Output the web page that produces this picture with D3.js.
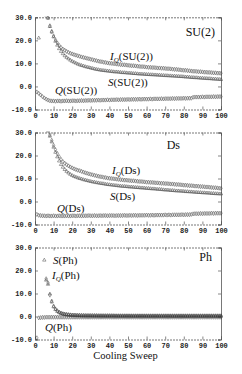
<!DOCTYPE html>
<html><head><meta charset="utf-8">
<script src="https://cdn.jsdelivr.net/npm/d3@7"></script>
<style>html,body{margin:0;padding:0;background:#fff;} svg{display:block;}</style>
</head><body>
<svg id="c" width="242" height="374"></svg>
<script>
// ---------- data ----------
const sweeps = d3.range(1, 101);            // cooling sweep 1..100
const xTicks = [0,10,20,30,40,50,60,70,80,90,100];
const yTicks = [-10,0,10,20,30];
const panelNames = ["SU(2)", "Ds", "Ph"];
const xTitle = "Cooling Sweep";

const su2_IQ = [null,null,35.0,34.0,33.0,31.5,29.9,26.3,23.9,21.9,
20.2,18.9,17.8,16.9,16.2,15.7,15.2,14.8,14.4,14.1,
13.8,13.6,13.3,13.1,12.8,12.6,12.4,12.2,12.0,11.8,
11.6,11.4,11.2,11.0,10.8,10.7,10.5,10.4,10.2,10.1,
10.0,9.9,9.8,9.7,9.6,9.5,9.4,9.4,9.3,9.2,
9.1,9.0,9.0,8.9,8.8,8.7,8.6,8.6,8.5,8.4,
8.3,8.3,8.2,8.2,8.1,8.0,8.0,7.9,7.9,7.8,
7.7,7.7,7.6,7.5,7.4,7.4,7.3,7.2,7.1,7.0,
7.0,6.9,6.8,6.7,6.6,6.6,6.5,6.4,6.4,6.3,
6.2,6.2,6.1,6.1,6.0,5.9,5.9,5.8,5.8,5.7];
const su2_S = [null,21.0,34.0,33.0,32.0,31.0,29.6,26.0,23.6,21.5,
19.6,17.9,16.4,15.2,14.2,13.3,12.6,12.0,11.4,10.9,
10.5,10.1,9.7,9.4,9.1,8.9,8.6,8.4,8.2,8.0,
7.8,7.6,7.4,7.3,7.1,7.0,6.9,6.8,6.7,6.6,
6.5,6.4,6.3,6.3,6.2,6.1,6.0,6.0,5.9,5.8,
5.8,5.7,5.6,5.6,5.5,5.4,5.4,5.3,5.3,5.2,
5.2,5.1,5.1,5.0,5.0,4.9,4.9,4.8,4.8,4.7,
4.7,4.6,4.6,4.5,4.5,4.4,4.4,4.3,4.3,4.2,
4.1,4.1,4.0,3.9,3.9,3.8,3.8,3.7,3.6,3.6,
3.5,3.5,3.4,3.4,3.3,3.2,3.2,3.1,3.1,3.0];
const su2_Q = [-2.4,-3.0,-3.7,-4.4,-5.0,-5.5,-5.9,-6.2,-6.3,-6.3,
-6.4,-6.3,-6.3,-6.4,-6.3,-6.3,-6.2,-6.3,-6.3,-6.2,
-6.2,-6.3,-6.2,-6.2,-6.1,-6.2,-6.1,-6.1,-6.0,-6.1,
-6.0,-6.0,-6.0,-5.9,-6.0,-5.9,-5.9,-5.9,-5.8,-5.9,
-5.8,-5.8,-5.8,-5.7,-5.8,-5.7,-5.7,-5.7,-5.7,-5.6,
-5.7,-5.6,-5.6,-5.6,-5.6,-5.5,-5.6,-5.5,-5.5,-5.5,
-5.5,-5.4,-5.5,-5.4,-5.4,-5.4,-5.4,-5.3,-5.4,-5.3,
-5.3,-5.3,-5.3,-5.2,-5.3,-5.2,-5.2,-5.2,-5.2,-5.1,
-5.2,-5.1,-5.1,-5.1,-4.7,-4.6,-4.6,-4.6,-4.6,-4.5,
-4.6,-4.5,-4.5,-4.5,-4.5,-4.4,-4.5,-4.4,-4.4,-4.4];

const ds_IQ = [null,null,null,null,36.0,33.5,31.2,28.9,26.6,24.4,
22.5,20.9,19.5,18.3,17.3,16.6,16.0,15.5,15.0,14.6,
14.2,13.9,13.6,13.4,13.1,12.8,12.5,12.3,12.0,11.8,
11.6,11.4,11.2,11.0,10.8,10.7,10.5,10.4,10.2,10.1,
10.0,9.9,9.8,9.7,9.6,9.5,9.4,9.3,9.3,9.2,
9.1,9.0,9.0,8.9,8.8,8.7,8.7,8.6,8.5,8.4,
8.4,8.3,8.3,8.2,8.1,8.1,8.0,7.9,7.9,7.8,
7.8,7.7,7.6,7.6,7.5,7.4,7.4,7.3,7.2,7.1,
7.1,7.0,6.9,6.9,6.8,6.7,6.7,6.6,6.5,6.5,
6.4,6.3,6.3,6.2,6.1,6.0,6.0,5.9,5.8,5.7];
const ds_S = [null,null,null,null,35.0,32.8,30.6,28.4,25.9,23.6,
21.4,19.4,17.6,16.1,14.9,13.9,13.1,12.4,11.8,11.3,
10.9,10.6,10.3,10.0,9.8,9.5,9.3,9.1,8.9,8.7,
8.5,8.4,8.2,8.1,7.9,7.8,7.7,7.5,7.4,7.3,
7.2,7.1,7.0,6.9,6.8,6.7,6.6,6.6,6.5,6.4,
6.3,6.3,6.2,6.1,6.1,6.0,5.9,5.9,5.8,5.7,
5.7,5.6,5.5,5.5,5.4,5.3,5.3,5.2,5.1,5.0,
5.0,4.9,4.8,4.8,4.7,4.6,4.6,4.5,4.5,4.4,
4.3,4.3,4.2,4.2,4.1,4.0,4.0,3.9,3.9,3.8,
3.8,3.7,3.7,3.6,3.5,3.5,3.4,3.4,3.3,3.3];
const ds_Q = [-5.6,-6.0,-6.1,-6.2,-6.2,-6.3,-6.2,-6.3,-6.3,-6.2,
-6.3,-6.3,-6.2,-6.3,-6.3,-6.3,-6.2,-6.3,-6.3,-6.2,
-6.2,-6.3,-6.2,-6.2,-6.3,-6.2,-6.2,-6.2,-6.1,-6.2,
-6.2,-6.1,-6.2,-6.2,-6.1,-6.2,-6.1,-6.1,-6.2,-6.1,
-6.1,-6.1,-6.2,-6.1,-6.1,-6.1,-6.1,-6.0,-6.1,-6.1,
-6.0,-6.1,-6.0,-6.0,-6.1,-6.0,-6.0,-6.0,-6.0,-5.9,
-6.0,-6.0,-5.9,-6.0,-5.9,-5.9,-5.9,-5.9,-5.9,-5.8,
-5.9,-5.8,-5.9,-5.8,-5.8,-5.8,-5.8,-5.8,-5.7,-5.8,
-5.7,-5.7,-5.7,-5.6,-5.4,-5.3,-5.3,-5.3,-5.2,-5.3,
-5.2,-5.2,-5.2,-5.2,-5.1,-5.2,-5.1,-5.1,-5.1,-5.1];

const ph_IQ = [null,null,null,null,null,16.4,14.6,9.3,6.7,4.5,
3.3,2.5,1.9,1.5,1.2,1.0,0.9,0.8,0.7,0.6,
0.6,0.55,0.5,0.5,0.45,0.45,0.4,0.4,0.4,0.4,
0.4,0.4,0.4,0.35,0.35,0.35,0.35,0.35,0.35,0.35,
0.35,0.35,0.3,0.3,0.3,0.3,0.3,0.3,0.3,0.3,
0.3,0.3,0.3,0.3,0.3,0.3,0.3,0.3,0.3,0.3,
0.3,0.3,0.3,0.3,0.3,0.3,0.3,0.3,0.3,0.3,
0.3,0.3,0.3,0.3,0.3,0.3,0.3,0.3,0.3,0.3,
0.3,0.3,0.3,0.3,0.3,0.3,0.3,0.3,0.3,0.3,
0.3,0.3,0.3,0.3,0.3,0.3,0.3,0.3,0.3,0.3];
const ph_S = [null,null,null,null,24.5,15.8,14.0,9.8,6.3,4.2,
3.0,2.2,1.7,1.3,1.1,0.9,0.8,0.7,0.6,0.5,
0.5,0.45,0.42,0.4,0.38,0.36,0.35,0.34,0.33,0.32,
0.31,0.3,0.3,0.3,0.29,0.29,0.28,0.28,0.28,0.27,
0.27,0.27,0.26,0.26,0.26,0.25,0.25,0.25,0.25,0.25,
0.24,0.24,0.24,0.24,0.24,0.23,0.23,0.23,0.23,0.23,
0.22,0.22,0.22,0.22,0.22,0.22,0.21,0.21,0.21,0.21,
0.21,0.21,0.2,0.2,0.2,0.2,0.2,0.2,0.2,0.2,
0.2,0.2,0.2,0.2,0.2,0.2,0.2,0.2,0.2,0.2,
0.2,0.2,0.2,0.2,0.2,0.2,0.2,0.2,0.2,0.2];
const ph_Q = [-9.3,-0.6,-0.5,-0.4,-0.4,-0.3,-0.3,-0.3,-0.3,-0.3,
-0.3,-0.3,-0.3,-0.3,-0.3,-0.3,-0.3,-0.3,-0.3,-0.3,
-0.3,-0.3,-0.3,-0.3,-0.3,-0.3,-0.3,-0.3,-0.3,-0.3,
-0.3,-0.3,-0.3,-0.3,-0.3,-0.3,-0.3,-0.3,-0.3,-0.3,
-0.3,-0.3,-0.3,-0.3,-0.3,-0.3,-0.3,-0.3,-0.3,-0.3,
-0.3,-0.3,-0.3,-0.3,-0.3,-0.3,-0.3,-0.3,-0.3,-0.3,
-0.3,-0.3,-0.3,-0.3,-0.3,-0.3,-0.3,-0.3,-0.3,-0.3,
-0.3,-0.3,-0.3,-0.3,-0.3,-0.3,-0.3,-0.3,-0.3,-0.3,
-0.3,-0.3,-0.3,-0.3,-0.3,-0.3,-0.3,-0.3,-0.3,-0.3,
-0.3,-0.3,-0.3,-0.3,-0.3,-0.3,-0.3,-0.3,-0.3,-0.3];

const panelSeries = [
  {IQ: su2_IQ, S: su2_S, Q: su2_Q},
  {IQ: ds_IQ,  S: ds_S,  Q: ds_Q},
  {IQ: ph_IQ,  S: ph_S,  Q: ph_Q}
];

// ---------- layout ----------
const left = 35, right = 221;
const layout = [
  {top: 17.3, bottom: 109.5, name: [215, 36], iq: [110, 60], s: [108, 86], q: [55, 94]},
  {top: 132.5, bottom: 224.5, name: [180, 149], iq: [112, 174], s: [110, 200], q: [57, 212]},
  {top: 247.5, bottom: 339.5, name: [212, 261], iq: [52, 279], s: [53, 264], q: [45, 331]}
];

const svg = d3.select("#c");
const serif = "'Liberation Serif','DejaVu Serif',serif";
const mono = "'Liberation Mono','DejaVu Sans Mono',monospace";

const x = d3.scaleLinear().domain([0, 100]).range([left, right]);

layout.forEach((L, i) => {
  const y = d3.scaleLinear().domain([-10, 30]).range([L.bottom, L.top]);
  const g = svg.append("g");
  const clipId = "clip" + i;
  svg.append("clipPath").attr("id", clipId).append("rect")
    .attr("x", left - 2).attr("y", L.top - 1).attr("width", right - left + 4).attr("height", L.bottom - L.top + 2);

  const fmt = d => d.toFixed(1);
  const ax = [
    g.append("g").attr("transform", `translate(${left},0)`).call(d3.axisLeft(y).tickValues(yTicks).tickSize(-3).tickPadding(3).tickFormat(fmt)),
    g.append("g").attr("transform", `translate(${right},0)`).call(d3.axisRight(y).tickValues(yTicks).tickSize(-3).tickFormat("")),
    g.append("g").attr("transform", `translate(0,${L.bottom})`).call(d3.axisBottom(x).tickValues(xTicks).tickSize(-3).tickPadding(4)),
    g.append("g").attr("transform", `translate(0,${L.top})`).call(d3.axisTop(x).tickValues(xTicks).tickSize(-3).tickFormat(""))
  ];
  ax.forEach(a => {
    a.select(".domain").attr("stroke", "#555").attr("stroke-width", 0.8);
    a.selectAll(".tick line").attr("stroke", "#555").attr("stroke-width", 0.7);
    a.selectAll("text").attr("font-family", mono).attr("font-weight", "bold")
      .attr("font-size", 7).attr("fill", "#222");
  });
  ax[3].select(".domain").attr("stroke-dasharray", "2,1");
  ax[2].select(".domain").attr("stroke-dasharray", "2,1");

  const ser = panelSeries[i];
  const defs = [
    {vals: ser.IQ, type: d3.symbolDiamond, size: 5},
    {vals: ser.S,  type: d3.symbolTriangle, size: 5},
    {vals: ser.Q,  type: d3.symbolDiamond, size: 5}
  ];
  const mk = g.append("g").attr("clip-path", `url(#${clipId})`);
  defs.forEach(dd => {
    const pts = sweeps.map((s, k) => ({s, v: dd.vals[k]})).filter(p => p.v !== null);
    mk.selectAll(null).data(pts).enter().append("path")
      .attr("d", d3.symbol().type(dd.type).size(dd.size))
      .attr("transform", p => `translate(${x(p.s)},${y(p.v)})`)
      .attr("fill", "none").attr("stroke", "#333").attr("stroke-width", 0.45);
  });

  g.append("text").attr("x", L.name[0]).attr("y", L.name[1]).attr("text-anchor", "end")
    .attr("font-family", serif).attr("font-size", 12).attr("fill", "#111").text(panelNames[i]);

  const inner = "(" + panelNames[i] + ")";
  const lab = (pos, letter, sub) => {
    const t = g.append("text").attr("x", pos[0]).attr("y", pos[1])
      .attr("font-family", serif).attr("font-size", 11).attr("fill", "#111");
    t.append("tspan").attr("font-style", "italic").text(letter);
    if (sub) {
      t.append("tspan").attr("font-style", "italic").attr("font-size", 7).attr("dy", 2).text(sub);
      t.append("tspan").attr("dy", -2).text(inner);
    } else {
      t.append("tspan").text(inner);
    }
  };
  lab(L.iq, "I", "Q");
  lab(L.s, "S", null);
  lab(L.q, "Q", null);
});

svg.append("text").attr("x", 125.5).attr("y", 359).attr("text-anchor", "middle")
  .attr("font-family", serif).attr("font-size", 10.5).attr("fill", "#111").text(xTitle);
</script>
</body></html>
